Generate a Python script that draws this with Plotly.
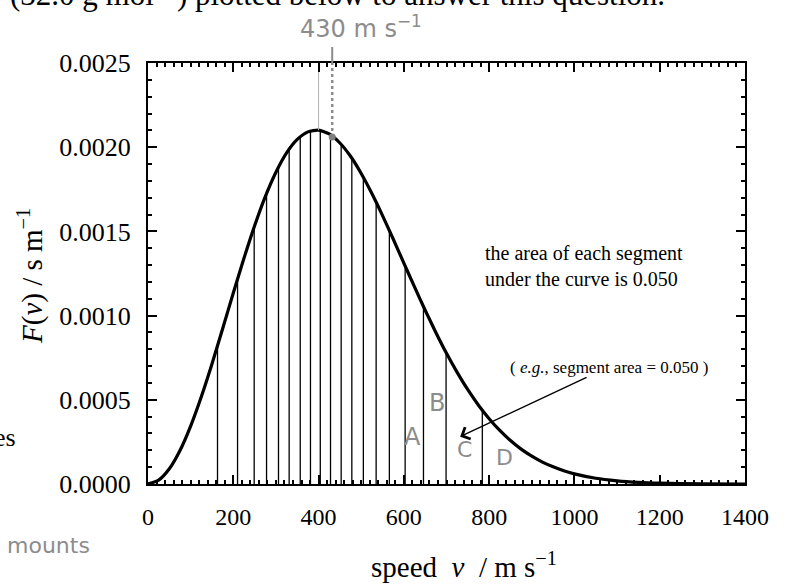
import plotly.graph_objects as go

# ---- data ----
curve_speed = [0, 25, 50, 75, 100, 125, 150, 175, 200, 225, 250, 275, 300, 325, 350,
               375, 400, 425, 450, 475, 500, 525, 550, 575, 600, 625, 650, 675, 700,
               725, 750, 775, 800, 825, 850, 875, 900, 925, 950, 975, 1000, 1050,
               1100, 1150, 1200, 1300, 1400]
curve_F = [0.0, 0.0000228, 0.0000901, 0.0001987, 0.000344, 0.000518, 0.000713,
           0.000922, 0.001134, 0.001340, 0.001533, 0.001706, 0.001851, 0.001966,
           0.002046, 0.002091, 0.002101, 0.002079, 0.002025, 0.001946, 0.001844,
           0.001725, 0.001594, 0.001455, 0.001312, 0.001170, 0.001032, 0.000900,
           0.000776, 0.000663, 0.000560, 0.000468, 0.000388, 0.000318, 0.000258,
           0.000207, 0.000165, 0.000130, 0.000102, 0.0000786, 0.000060, 0.000034,
           0.000019, 0.000010, 0.000005, 0.000001, 0.0]

segment_speed = [163, 210, 249, 278, 306, 331, 357, 381, 404, 428, 453, 478, 505,
                 535, 566, 603, 646, 699, 784]
segment_F = [0.000817, 0.001220, 0.001523, 0.001727, 0.001880, 0.001989, 0.002063,
             0.002097, 0.002100, 0.002074, 0.002016, 0.001933, 0.001822, 0.001676,
             0.001506, 0.001297, 0.001055, 0.000782, 0.000438]

x_ticks = [0, 200, 400, 600, 800, 1000, 1200, 1400]
y_ticks = [0.0, 0.0005, 0.0010, 0.0015, 0.0020, 0.0025]

mark_speed = 432          # handwritten "430 m s-1" mark
peak_speed = 400

SERIF = "Liberation Serif"
HAND = "DejaVu Sans"
GRAY = "#8c8c8c"

# plot-area pixel frame (page coordinates) used to place free text
PL, PR, PT, PB = 148, 745, 63, 484
def px(x):
    return (x - PL) / (PR - PL)
def py(y):
    return (PB - y) / (PB - PT)

# vertical segment lines built from the data
seg_x, seg_y = [], []
for v, f in zip(segment_speed, segment_F):
    seg_x += [v, v, None]
    seg_y += [0, f, None]

fig = go.Figure()
fig.add_trace(go.Scatter(x=seg_x, y=seg_y, mode="lines",
                         line=dict(color="black", width=1.3), hoverinfo="skip"))
fig.add_trace(go.Scatter(x=curve_speed, y=curve_F, mode="lines",
                         line=dict(color="black", width=3.2, shape="spline", smoothing=0.6)))
# faint handwritten guide lines
fig.add_trace(go.Scatter(x=[peak_speed, peak_speed], y=[max(curve_F), y_ticks[-1]],
                         mode="lines", line=dict(color="#b0b0b0", width=1)))
fig.add_trace(go.Scatter(x=[mark_speed, mark_speed], y=[0.00206, y_ticks[-1]],
                         mode="lines", line=dict(color=GRAY, width=2.5, dash="dot")))
fig.add_trace(go.Scatter(x=[mark_speed], y=[0.00206], mode="markers",
                         marker=dict(color="#808080", size=7)))

fig.add_shape(type="line", xref="paper", yref="paper",
              x0=mark_speed / 1400, x1=mark_speed / 1400, y0=1.0, y1=py(47),
              line=dict(color=GRAY, width=2))

annotations = [
    dict(text="the area of each segment<br>under the curve is 0.050",
         x=px(483), y=py(266), xref="paper", yref="paper",
         xanchor="left", yanchor="middle", align="left", showarrow=False,
         font=dict(family=SERIF, size=20, color="black")),
    dict(text="( <i>e.g.</i>, segment area = 0.050 )",
         x=px(508), y=py(367), xref="paper", yref="paper",
         xanchor="left", yanchor="middle", showarrow=False,
         font=dict(family=SERIF, size=17, color="black")),
    dict(text="", x=732, y=0.000281, ax=1032, ay=0.000637, xref="x", yref="y",
         axref="x", ayref="y", showarrow=True, arrowhead=4, arrowsize=1.8,
         arrowwidth=1.4, arrowcolor="black"),
    dict(text="speed  <i>v</i>  / m s<sup>−1</sup>", x=px(464), y=py(565),
         xref="paper", yref="paper", xanchor="center", yanchor="middle",
         showarrow=False, font=dict(family=SERIF, size=29, color="black")),
    dict(text="<i>F</i>(<i>v</i>) / s m<sup>−1</sup>", x=px(30), y=py(276),
         xref="paper", yref="paper", xanchor="center", yanchor="middle",
         textangle=-90, showarrow=False,
         font=dict(family=SERIF, size=29, color="black")),
    dict(text="(32.0 g mol<sup>−1</sup>) plotted below to answer this question.",
         x=px(8), y=py(14), xref="paper", yref="paper",
         xanchor="left", yanchor="bottom", showarrow=False,
         font=dict(family=SERIF, size=31, color="black")),
    dict(text="es", x=px(18), y=py(437), xref="paper", yref="paper",
         xanchor="right", yanchor="middle", showarrow=False,
         font=dict(family=SERIF, size=26, color="black")),
    # handwritten marks
    dict(text="430 m s<sup>−1</sup>", x=px(298), y=py(27), xref="paper",
         yref="paper", xanchor="left", yanchor="middle", showarrow=False,
         font=dict(family=HAND, size=24, color=GRAY)),
    dict(text="A", x=621, y=0.000279, xref="x", yref="y", showarrow=False,
         font=dict(family=HAND, size=24, color=GRAY)),
    dict(text="B", x=678, y=0.000481, xref="x", yref="y", showarrow=False,
         font=dict(family=HAND, size=24, color=GRAY)),
    dict(text="C", x=743, y=0.000202, xref="x", yref="y", showarrow=False,
         font=dict(family=HAND, size=22, color=GRAY)),
    dict(text="D", x=837, y=0.000160, xref="x", yref="y", showarrow=False,
         font=dict(family=HAND, size=22, color=GRAY)),
    dict(text="mounts", x=px(92), y=py(545), xref="paper", yref="paper",
         xanchor="right", yanchor="middle", showarrow=False,
         font=dict(family=HAND, size=22, color=GRAY)),
]

fig.update_layout(
    width=788, height=585,
    margin=dict(l=PL, r=788 - PR, t=PT, b=585 - PB),
    paper_bgcolor="white", plot_bgcolor="white",
    showlegend=False,
    annotations=annotations,
    font=dict(family=SERIF, color="black"),
)
fig.update_xaxes(range=[0, 1400], tickvals=x_ticks, showgrid=False, zeroline=False,
                 showline=True, linecolor="black", linewidth=2, mirror="allticks",
                 ticks="inside", ticklen=9, tickwidth=2, tickcolor="black",
                 ticklabelstandoff=10,
                 minor=dict(dtick=20, ticks="inside", ticklen=4, tickwidth=1.5,
                            tickcolor="black", showgrid=False),
                 tickfont=dict(family=SERIF, size=24, color="black"))
fig.update_yaxes(range=[0, 0.0025], tickvals=y_ticks, tickformat=".4f",
                 showgrid=False, zeroline=False,
                 showline=True, linecolor="black", linewidth=2, mirror="allticks",
                 ticks="inside", ticklen=9, tickwidth=2, tickcolor="black",
                 ticklabelstandoff=10,
                 minor=dict(dtick=0.0001, ticks="inside", ticklen=4, tickwidth=1.5,
                            tickcolor="black", showgrid=False),
                 tickfont=dict(family=SERIF, size=26, color="black"))

fig.write_html("out.html", config={"displayModeBar": False},
               post_script="document.body.style.margin='0px';")
